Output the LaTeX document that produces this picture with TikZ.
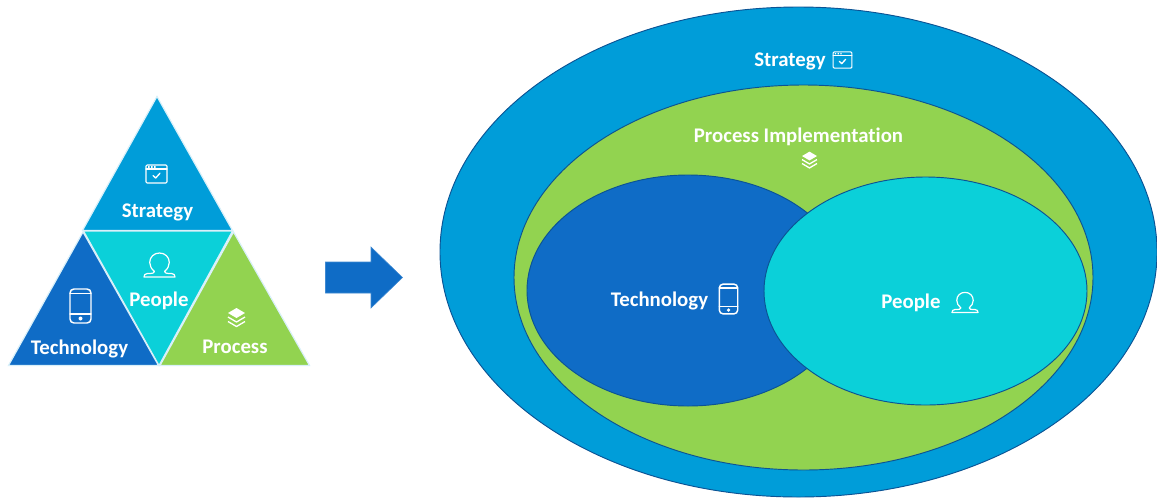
\documentclass[tikz,border=0pt]{standalone}
\usepackage{fontspec}
\setmainfont[RawFeature={-liga}]{Carlito}
\definecolor{cStrat}{HTML}{009DD9}
\definecolor{cTech}{HTML}{0F6CC6}
\definecolor{cPeople}{HTML}{0BD0D9}
\definecolor{cProc}{HTML}{92D350}
\definecolor{cEdge}{HTML}{0B5394}
\tikzset{
  tri/.style={draw=white!85!cStrat,line width=0.9pt,line join=miter},
  oval/.style={draw=cEdge,line width=0.7pt},
  lbl/.style={text=white,font=\fontsize{15.6}{18}\selectfont\bfseries,inner sep=0pt},
  ico/.style={draw=white,line width=0.8pt,line join=round,line cap=round},
  windowicon/.pic={
    \draw[ico,rounded corners=0.8] (-10.5,-9) rectangle (10.5,9);
    \draw[ico] (-10.5,-5) -- (10.5,-5);
    \fill[white] (-8.5,-8) rectangle (-7,-6.2) (-5.5,-8) rectangle (-4,-6.2) (-2.5,-8) rectangle (-1,-6.2);
    \draw[ico,line width=1pt] (-3.5,1.5) -- (-0.8,4) -- (3.5,-0.8);
  },
  phoneicon/.pic={
    \draw[ico,line width=1.1pt,rounded corners=3] (-10.5,-17) rectangle (10.5,17);
    \draw[ico] (-10.5,-12.5) -- (10.5,-12.5) (-10.5,8) -- (10.5,8);
    \fill[white] (0,12.5) circle (2);
  },
  personicon/.pic={
    \draw[ico,line width=0.9pt] (-5,7) .. controls (-8,4.5) and (-9.8,1.5) .. (-9.8,-2)
      .. controls (-9.8,-7.5) and (-5.5,-11.5) .. (0,-11.5)
      .. controls (5.5,-11.5) and (9.8,-7.5) .. (9.8,-2)
      .. controls (9.8,1.5) and (8,4.5) .. (5,7)
      .. controls (5.5,8.5) and (7,9) .. (9,9)
      -- (12,9)
      .. controls (14.5,9) and (15.5,10.5) .. (15.5,12.5)
      -- (-15.5,12.5)
      .. controls (-15.5,10.5) and (-14.5,9) .. (-12,9)
      -- (-9,9)
      .. controls (-7,9) and (-5.5,8.5) .. (-5,7) -- cycle;
  },
  layersicon/.pic={
    \fill[white] (0,-9.5) -- (8.5,-4.5) -- (0,0.5) -- (-8.5,-4.5) -- cycle;
    \draw[ico,line width=1pt,line cap=butt] (-8.5,-0.5) -- (0,4.5) -- (8.5,-0.5);
    \draw[ico,line width=1pt,line cap=butt] (-8.5,4) -- (0,9) -- (8.5,4);
  },
}
\begin{document}
\begin{tikzpicture}[x=0.75pt,y=-0.75pt]
\useasboundingbox (0,0) rectangle (1157,497);
% left pyramid
\filldraw[tri,fill=cStrat] (157,96.5) -- (232.5,230.5) -- (82.5,230.5) -- cycle;
\filldraw[tri,fill=cPeople] (83.5,231) -- (232.5,231) -- (159,365.5) -- cycle;
\filldraw[tri,fill=cTech] (83,232) -- (158.5,365.5) -- (8.5,365.5) -- cycle;
\filldraw[tri,fill=cProc] (233.5,232) -- (309.5,365.5) -- (160,365.5) -- cycle;
\pic at (156.5,174) {windowicon};
\pic at (80.5,306) {phoneicon};
\pic at (159.5,264.5) {personicon};
\pic at (236.5,317.5) {layersicon};
\node[lbl] (lStrategy) at (157.5,212.5) {Strategy};
\node[lbl] (lTechnology) at (79.5,348.5) {Technology};
\node[lbl] (lPeople) at (159,301) {People};
\node[lbl] (lProcess) at (235,347) {Process};
% arrow
\filldraw[draw=cTech!80!white,line width=0.4pt,fill=cTech] (325.5,262) -- (371,262) -- (371,247) -- (402.5,277.5) -- (371,308) -- (371,293) -- (325.5,293) -- cycle;
% right ovals
\filldraw[oval,fill=cStrat] (798.5,252) ellipse [x radius=358.5,y radius=245];
\filldraw[oval,fill=cProc] (803.5,277.5) ellipse [x radius=289.5,y radius=192.5];
\filldraw[oval,fill=cTech] (688,290.5) ellipse [x radius=161,y radius=115.5];
\filldraw[oval,fill=cPeople] (925.5,291) ellipse [x radius=161.5,y radius=114];
\node[lbl] (rStrategy) at (790,61) {Strategy};
\node[lbl] (rProcess) at (798.5,137) {Process Implementation};
\node[lbl] (rTechnology) at (659.5,300.5) {Technology};
\node[lbl] (rPeople) at (911,303) {People};
\pic[scale=0.9] at (842.5,60) {windowicon};
\pic[scale=0.88] at (809.5,160) {layersicon};
\pic[scale=0.88] at (728.5,299) {phoneicon};
\pic[scale=0.84] at (965,302) {personicon};
\end{tikzpicture}
\end{document}
